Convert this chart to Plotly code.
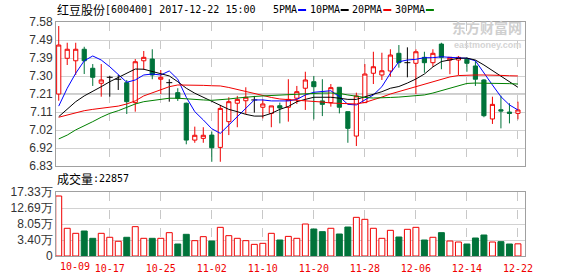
import plotly.graph_objects as go

# ---------------- data ----------------
DATES = ["10-09", "10-10", "10-11", "10-12", "10-13", "10-16", "10-17", "10-18", "10-19", "10-20",
         "10-23", "10-24", "10-25", "10-26", "10-27", "10-30", "10-31",
         "11-01", "11-02", "11-03", "11-06", "11-07", "11-08", "11-09", "11-10", "11-13", "11-14",
         "11-15", "11-16", "11-17", "11-20", "11-21", "11-22", "11-23", "11-24", "11-27", "11-28",
         "11-29", "11-30",
         "12-01", "12-04", "12-05", "12-06", "12-07", "12-08", "12-11", "12-12", "12-13", "12-14",
         "12-15", "12-18", "12-19", "12-20", "12-21", "12-22"]

OPEN = [7.205, 7.391, 7.378, 7.438, 7.339, 7.261, 7.292, 7.282, 7.264, 7.160,
        7.378, 7.387, 7.282, 7.264, 7.212, 7.157, 6.965, 6.974, 6.991, 6.927,
        7.061, 7.157, 7.170, 7.174, 7.136, 7.104, 7.144, 7.136, 7.183, 7.235,
        7.269, 7.169, 7.160, 7.240, 7.113, 6.986, 7.160, 7.313, 7.304, 7.325,
        7.417, 7.368, 7.365, 7.396, 7.368, 7.465, 7.382, 7.382, 7.386, 7.351,
        7.278, 7.075, 7.123, 7.111, 7.104]
HIGH = [7.559, 7.472, 7.472, 7.451, 7.361, 7.361, 7.300, 7.304, 7.278, 7.387,
        7.429, 7.438, 7.330, 7.282, 7.235, 7.160, 7.035, 7.032, 7.009, 7.148,
        7.188, 7.195, 7.240, 7.195, 7.177, 7.143, 7.160, 7.282, 7.247, 7.321,
        7.299, 7.282, 7.257, 7.240, 7.113, 7.212, 7.361, 7.425, 7.420, 7.438,
        7.460, 7.448, 7.438, 7.425, 7.438, 7.472, 7.396, 7.403, 7.396, 7.378,
        7.282, 7.191, 7.196, 7.157, 7.165]
LOW = [7.170, 7.356, 7.304, 7.309, 7.247, 7.191, 7.191, 7.226, 7.101, 7.113,
       7.330, 7.282, 7.205, 7.165, 7.169, 6.943, 6.951, 6.951, 6.852, 6.852,
       6.991, 7.032, 7.101, 7.108, 7.078, 7.032, 7.052, 7.061, 7.153, 7.122,
       7.073, 7.090, 7.139, 7.104, 6.951, 6.934, 7.160, 7.257, 7.278, 7.295,
       7.342, 7.292, 7.205, 7.316, 7.347, 7.334, 7.308, 7.304, 7.321, 7.247,
       7.084, 7.049, 7.026, 7.052, 7.073]
CLOSE = [7.460, 7.438, 7.438, 7.378, 7.292, 7.278, 7.292, 7.282, 7.165, 7.373,
         7.396, 7.304, 7.292, 7.264, 7.183, 6.965, 6.990, 6.990, 6.925, 7.130,
         7.165, 7.177, 7.188, 7.174, 7.153, 7.143, 7.132, 7.177, 7.217, 7.278,
         7.243, 7.151, 7.238, 7.136, 7.026, 7.195, 7.309, 7.347, 7.326, 7.408,
         7.368, 7.368, 7.425, 7.368, 7.417, 7.396, 7.396, 7.396, 7.365, 7.282,
         7.092, 7.151, 7.116, 7.104, 7.122]

# volume in 万 (10k lots)
VOLUME_WAN = [16.17, 6.80, 5.34, 6.01, 3.89, 5.34, 4.19, 3.03, 4.19, 7.27,
              3.89, 3.89, 3.89, 5.53, 2.24, 5.05, 3.21, 4.37, 3.11, 7.08,
              4.66, 3.89, 3.21, 2.14, 2.44, 5.34, 3.40, 4.45, 3.89, 8.04,
              6.59, 5.82, 6.80, 5.14, 7.17, 9.98, 9.40, 6.80, 3.89, 6.21,
              4.27, 6.50, 7.08, 3.40, 4.19, 5.53, 3.11, 2.82, 2.24, 3.98,
              4.85, 2.82, 2.92, 2.24, 2.29]

MA5 = [7.142, 7.235, 7.313, 7.378, 7.403, 7.382, 7.347, 7.304, 7.266, 7.278,
       7.304, 7.309, 7.304, 7.325, 7.282, 7.188, 7.113, 7.070, 7.024, 7.000,
       7.044, 7.087, 7.131, 7.174, 7.174, 7.169, 7.169, 7.169, 7.177, 7.200,
       7.214, 7.217, 7.222, 7.191, 7.151, 7.148, 7.176, 7.200, 7.243, 7.313,
       7.373, 7.382, 7.386, 7.394, 7.394, 7.399, 7.396, 7.394, 7.391, 7.378,
       7.313, 7.252, 7.191, 7.148, 7.122]
MA10 = [7.087, 7.125, 7.165, 7.195, 7.217, 7.243, 7.269, 7.292, 7.313, 7.335,
        7.334, 7.321, 7.309, 7.299, 7.269, 7.235, 7.209, 7.188, 7.170, 7.148,
        7.125, 7.113, 7.099, 7.090, 7.090, 7.104, 7.125, 7.140, 7.165, 7.177,
        7.188, 7.188, 7.188, 7.183, 7.177, 7.177, 7.189, 7.205, 7.217, 7.235,
        7.244, 7.262, 7.283, 7.309, 7.346, 7.374, 7.382, 7.391, 7.392, 7.382,
        7.356, 7.326, 7.299, 7.269, 7.240]
MA20 = [7.084, 7.096, 7.108, 7.118, 7.125, 7.131, 7.136, 7.142, 7.153, 7.169,
        7.195, 7.212, 7.229, 7.243, 7.252, 7.252, 7.252, 7.250, 7.248, 7.247,
        7.239, 7.228, 7.218, 7.208, 7.197, 7.187, 7.179, 7.176, 7.174, 7.171,
        7.169, 7.163, 7.158, 7.156, 7.153, 7.153, 7.161, 7.174, 7.189, 7.205,
        7.218, 7.231, 7.244, 7.257, 7.270, 7.283, 7.294, 7.301, 7.304, 7.304,
        7.304, 7.304, 7.302, 7.300, 7.299]
MA30 = [6.971, 6.991, 7.018, 7.038, 7.061, 7.084, 7.104, 7.118, 7.136, 7.153,
        7.165, 7.170, 7.177, 7.183, 7.183, 7.179, 7.176, 7.174, 7.172, 7.174,
        7.179, 7.184, 7.189, 7.192, 7.195, 7.197, 7.200, 7.202, 7.205, 7.208,
        7.210, 7.210, 7.210, 7.208, 7.200, 7.192, 7.187, 7.184, 7.184, 7.187,
        7.189, 7.192, 7.195, 7.200, 7.210, 7.223, 7.236, 7.249, 7.260, 7.262,
        7.262, 7.262, 7.261, 7.259, 7.257]

PRICE_TICKS = [7.58, 7.48625, 7.3925, 7.29875, 7.205, 7.11125, 7.0175, 6.92375, 6.83]
PRICE_TICK_TEXT = ["7.58", "7.49", "7.39", "7.30", "7.21", "7.11", "7.02", "6.92", "6.83"]
VOL_TICKS = [-1.24, 3.4025, 8.045, 12.6875, 17.33]
VOL_TICK_TEXT = ["0", "3.40万", "8.05万", "12.69万", "17.33万"]
LAST_VOLUME = 22857
STOCK_NAME = "红豆股份"
STOCK_INFO = "[600400] 2017-12-22 15:00"
MA_NAMES = ["5PMA", "10PMA", "20PMA", "30PMA"]
TICK_EVERY = 6

# ---------------- layout helpers ----------------
W, H = 578, 276
L, R, T, B = 56, 53, 22, 20
PW, PH = W - L - R, H - T - B


def px(x):
    return (x - L) / PW


def py(y):
    return (H - B - y) / PH


RED = "#f00000"
GREEN = "#00733a"
MA_COLORS = ["#0000ff", "#000000", "#f00000", "#008000"]
GRID = "#d2d2d2"
BORDER = "#a0a0a0"
MONO = "DejaVu Sans Mono"
CJK = "Noto Sans CJK SC"

n = len(CLOSE)
idx = list(range(n))
is_doji = [o == c for o, c in zip(OPEN, CLOSE)]


def mask(a):
    return [None if d else v for v, d in zip(a, is_doji)]


fig = go.Figure()

fig.add_trace(go.Candlestick(
    x=idx, open=mask(OPEN), high=mask(HIGH), low=mask(LOW), close=mask(CLOSE),
    increasing=dict(line=dict(color=RED, width=1), fillcolor="white"),
    decreasing=dict(line=dict(color=GREEN, width=1), fillcolor=GREEN),
    whiskerwidth=0, xaxis="x", yaxis="y", showlegend=False, hoverinfo="skip"))

dx, dy = [], []
for i in idx:
    if is_doji[i]:
        dx += [i, i, None, i - 0.35, i + 0.35, None]
        dy += [LOW[i], HIGH[i], None, OPEN[i], OPEN[i], None]
fig.add_trace(go.Scatter(x=dx, y=dy, mode="lines", line=dict(color="black", width=1),
                         xaxis="x", yaxis="y", showlegend=False, hoverinfo="skip"))

for name, ma, col in zip(MA_NAMES, [MA5, MA10, MA20, MA30], MA_COLORS):
    fig.add_trace(go.Scatter(x=idx, y=ma, mode="lines", name=name,
                             line=dict(color=col, width=1), xaxis="x", yaxis="y",
                             showlegend=False, hoverinfo="skip"))

VOL_MIN, VOL_MAX = VOL_TICKS[0], VOL_TICKS[-1]
up = [c >= o for o, c in zip(OPEN, CLOSE)]
fig.add_trace(go.Bar(
    x=idx, y=[v - VOL_MIN for v in VOLUME_WAN], base=VOL_MIN, width=0.7,
    marker=dict(color=["white" if u else GREEN for u in up],
                line=dict(color=[RED if u else GREEN for u in up], width=1)),
    xaxis="x2", yaxis="y2", showlegend=False, hoverinfo="skip"))

grid_idx = list(range(TICK_EVERY, n, TICK_EVERY))
xr = [-0.32, 54.83]
common_x = dict(range=xr, tickvals=grid_idx, showgrid=True, gridcolor="#c8c8c8",
                griddash="dash", gridwidth=1, showline=True, linecolor=BORDER, linewidth=1,
                mirror=True, zeroline=False, ticks="", fixedrange=True, automargin=False)
common_y = dict(showgrid=True, gridcolor=GRID, gridwidth=1, showline=True, linecolor=BORDER,
                linewidth=1, mirror=True, zeroline=False, ticks="", automargin=False,
                fixedrange=True,
                tickfont=dict(family="Liberation Sans", size=12, color="#333333"))

fig.update_layout(
    width=W, height=H, autosize=False,
    margin=dict(l=L, r=R, t=T, b=B, pad=0, autoexpand=False),
    paper_bgcolor="white", plot_bgcolor="white", showlegend=False,
    xaxis=dict(domain=[0, 1], anchor="y", showticklabels=False,
               rangeslider=dict(visible=False), **common_x),
    yaxis=dict(domain=[py(166), 1], anchor="x", range=[PRICE_TICKS[-1], PRICE_TICKS[0]],
               tickvals=PRICE_TICKS, ticktext=PRICE_TICK_TEXT, **common_y),
    xaxis2=dict(domain=[0, 1], anchor="y2", ticktext=[DATES[i] for i in grid_idx],
                tickfont=dict(family=MONO, size=10, color=RED), ticklabelstandoff=3,
                **common_x),
    yaxis2=dict(domain=[0, py(192)], anchor="x2", range=[VOL_MIN, VOL_MAX],
                tickvals=VOL_TICKS, ticktext=VOL_TICK_TEXT, **common_y),
)

# darker middle reference line
fig.add_shape(type="line", xref="x domain", x0=0, x1=1, yref="y",
              y0=PRICE_TICKS[4], y1=PRICE_TICKS[4], line=dict(color="#9a9a9a", width=1),
              layer="below")

ann = []


def text(x, y, s, fam, size, color="#000000", anchor="left", bold=False, yanchor="middle"):
    if bold:
        s = "<b>" + s + "</b>"
    ann.append(dict(x=px(x), y=py(y), xref="paper", yref="paper", text=s, showarrow=False,
                    xanchor=anchor, yanchor=yanchor, borderpad=0,
                    font=dict(family=fam, size=size, color=color)))


text(56, 10, STOCK_NAME, CJK, 12)
text(104, 10, STOCK_INFO, MONO, 10)

# legend
lx = 272
for name, col in zip(MA_NAMES, MA_COLORS):
    text(lx, 10, name, MONO, 10)
    lx += 6.02 * len(name) + 2
    fig.add_shape(type="line", xref="paper", yref="paper", x0=px(lx), x1=px(lx + 8),
                  y0=py(10), y1=py(10), line=dict(color=col, width=2))
    lx += 10.5

# volume caption
text(56, 178, "成交量", CJK, 12)
text(92, 178, ":" + str(LAST_VOLUME), MONO, 10)

# first date label (shifted right so it stays clear of the axis labels)
text(59, 266.5, DATES[0], MONO, 10, color=RED)

# watermark
text(451, 38.5, "东方财富网", CJK, 14, color="#cfcfcf", bold=True, yanchor="bottom")
text(453, 39, "eastmoney.com", "Liberation Sans", 9, color="#d4d4d4", bold=True, yanchor="top")

fig.update_layout(annotations=ann)
fig.write_html("out.html")
